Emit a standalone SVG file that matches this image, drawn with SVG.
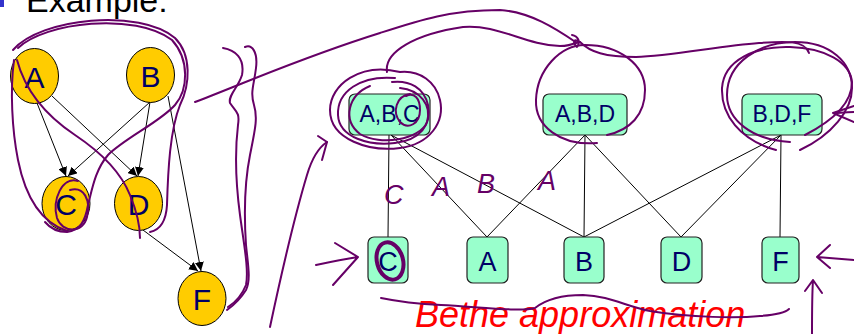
<svg xmlns="http://www.w3.org/2000/svg" width="854" height="334" viewBox="0 0 854 334">
<defs>
<style>
.circ{fill:#FFCC00;stroke:#000;stroke-width:1}
.box{fill:#99FFCC;stroke:#222;stroke-width:1.2}
.lbl{font-family:"Liberation Sans",Arial,sans-serif;fill:#000066;text-anchor:middle}
.big{font-size:30px}
.mid{font-size:23px}
.bot{font-size:27px}
.edge{stroke:#000;stroke-width:1;fill:none}
.ink{fill:none;stroke:#660066;stroke-width:2;stroke-linecap:round;stroke-linejoin:round}
.hand{font-family:"Liberation Sans",Arial,sans-serif;font-size:27px;fill:#660066;font-style:italic}
</style>
<marker id="arr" viewBox="0 0 10 10" refX="10" refY="5" markerWidth="9" markerHeight="9" markerUnits="userSpaceOnUse" orient="auto">
<path d="M0,0 L10,5 L0,10 z" fill="#000"/>
</marker>
</defs>
<rect width="854" height="334" fill="#fff"/>
<rect x="0" y="0" width="4" height="7" fill="#3333CC"/>
<text x="26" y="12" font-family="Liberation Sans,Arial,sans-serif" font-size="34" fill="#000">Example:</text>

<g id="connectors">
<line class="edge" x1="37" y1="103" x2="66" y2="176" marker-end="url(#arr)"/>
<line class="edge" x1="52" y1="96" x2="137" y2="176" marker-end="url(#arr)"/>
<line class="edge" x1="150" y1="102" x2="68" y2="176" marker-end="url(#arr)"/>
<line class="edge" x1="150" y1="102" x2="138" y2="176" marker-end="url(#arr)"/>
<line class="edge" x1="168" y1="96" x2="201" y2="271" marker-end="url(#arr)"/>
<line class="edge" x1="143" y1="230" x2="198" y2="271" marker-end="url(#arr)"/>
<line class="edge" x1="389" y1="135" x2="388" y2="237"/>
<line class="edge" x1="391" y1="135" x2="487" y2="237"/>
<line class="edge" x1="391" y1="135" x2="584" y2="237"/>
<line class="edge" x1="585" y1="135" x2="487" y2="237"/>
<line class="edge" x1="585" y1="135" x2="584" y2="237"/>
<line class="edge" x1="585" y1="135" x2="681" y2="237"/>
<line class="edge" x1="781" y1="135" x2="584" y2="237"/>
<line class="edge" x1="781" y1="135" x2="681" y2="237"/>
<line class="edge" x1="781" y1="135" x2="780" y2="237"/>
</g>

<g id="nA"><ellipse class="circ" cx="34.5" cy="76" rx="24" ry="27.5"/><text class="lbl big" x="34.5" y="88">A</text></g>
<g id="nB"><ellipse class="circ" cx="150.5" cy="75" rx="24" ry="27.5"/><text class="lbl big" x="150.5" y="87">B</text></g>
<g id="nC"><ellipse class="circ" cx="66" cy="203.5" rx="24" ry="27"/><text class="lbl big" x="66" y="215">C</text></g>
<g id="nD"><ellipse class="circ" cx="138.5" cy="203.5" rx="24" ry="27"/><text class="lbl big" x="138.5" y="215">D</text></g>
<g id="nF"><ellipse class="circ" cx="202" cy="298.5" rx="24" ry="27"/><text class="lbl big" x="202" y="310">F</text></g>

<g id="cABC"><rect class="box" x="349" y="94" width="81" height="41" rx="6"/><text class="lbl mid" x="389.5" y="122">A,B,C</text></g>
<g id="cABD"><rect class="box" x="543" y="94" width="84" height="41" rx="6"/><text class="lbl mid" x="585" y="122">A,B,D</text></g>
<g id="cBDF"><rect class="box" x="742" y="94" width="80" height="41" rx="6"/><text class="lbl mid" x="782" y="122">B,D,F</text></g>

<g id="sC"><rect class="box" x="368" y="237" width="40" height="46" rx="6"/><text class="lbl bot" x="388" y="271">C</text></g>
<g id="sA"><rect class="box" x="467" y="237" width="41" height="46" rx="6"/><text class="lbl bot" x="487.5" y="271">A</text></g>
<g id="sB"><rect class="box" x="564" y="237" width="40" height="46" rx="6"/><text class="lbl bot" x="584" y="271">B</text></g>
<g id="sD"><rect class="box" x="661" y="237" width="41" height="46" rx="6"/><text class="lbl bot" x="681.5" y="271">D</text></g>
<g id="sF"><rect class="box" x="762" y="237" width="37" height="46" rx="6"/><text class="lbl bot" x="780.5" y="271">F</text></g>

<text x="415" y="327" font-family="Liberation Sans,Arial,sans-serif" font-size="36" font-style="italic" fill="#FF0000">Bethe approximation</text>

<g id="ink">
<path class="ink" d="M13,50 C40,18 140,8 175,38 C192,55 190,85 180,105 C170,130 168,170 167,205 C166,222 160,230 150,232"/>
<path class="ink" d="M18,48 C45,22 135,12 172,40 C190,60 188,90 175,105 C160,122 125,138 108,155 C95,170 92,190 88,205 C85,222 80,230 67,232 C58,232 50,228 45,222"/>
<path class="ink" d="M14,60 C10,90 12,130 18,160 C25,195 40,222 67,231"/>
<path class="ink" d="M17,60 C25,90 45,115 75,135 C105,155 122,175 130,195 C137,212 140,225 140,238"/>
<path class="ink" d="M78,181 C62,176 52,200 57,218 C62,233 83,234 87,217 C91,200 84,186 70,190"/>
<path class="ink" d="M223,48 C235,50 245,58 242,75 C238,88 228,95 230,103 C236,112 240,112 238,125 C235,150 236,185 240,215 C244,245 249,270 246,285 C242,295 236,302 228,307"/>
<path class="ink" d="M245,47 C252,44 258,52 256,68 C254,85 250,92 254,105 C258,118 255,130 250,155 C244,185 244,215 246,245 C248,265 251,280 246,290 C241,298 234,305 227,310"/>
<path class="ink" d="M195,102 C240,85 300,58 380,33 C420,20 450,10 500,10 C530,12 555,28 577,43"/>
<path class="ink" d="M572,35 C578,36 581,42 577,47 C572,42 574,38 580,42"/>
<path class="ink" d="M387,72 C384,52 415,34 463,27 C498,24 525,45 560,46 C575,46 578,40 580,42 C590,52 605,57 636,57 C670,56 720,46 759,43 C785,41 805,40 809,53"/>
<path class="ink" d="M270,327 C280,280 295,215 307,175 C312,158 318,148 327,142"/>
<path class="ink" d="M318,136 L327,142 L322,160"/>
<path class="ink" d="M400,72 C360,62 330,85 330,110 C330,140 370,152 400,148 C430,144 445,122 440,100 C436,82 420,70 400,72"/>
<path class="ink" d="M395,78 C360,75 337,92 338,115 C339,138 370,146 395,143 C420,140 432,125 428,105 C424,88 410,80 392,82"/>
<path class="ink" d="M370,86 C348,95 342,120 360,134 C380,146 420,140 427,122 C432,105 420,90 400,88"/>
<path class="ink" d="M410,94 C396,96 392,112 400,122 C408,130 420,124 420,110 C420,98 414,92 406,96"/>
<path class="ink" d="M597,143 C560,146 535,126 536,100 C537,70 560,45 585,45 C620,45 645,65 645,90 C645,115 630,130 607,135"/>
<path class="ink" d="M790,142 C752,140 727,120 727,95 C727,62 760,42 795,42 C830,42 852,62 852,88 C852,110 832,135 800,150"/>
<path class="ink" d="M776,150 C740,140 721,115 722,88 C724,60 755,46 790,47 C825,48 850,62 852,82 C852,100 838,118 805,135"/>
<path class="ink" d="M854,106 L833,113 L854,122 M833,113 C840,113 848,112 854,112"/>
<path class="ink" d="M316,265 C330,262 345,259 358,257 M335,243 L358,257 L333,285"/>
<path class="ink" d="M854,260 L817,257 M830,245 L817,257 L830,268"/>
<path class="ink" d="M812,334 C812,315 812,295 813,280 M805,291 L813,280 L822,293"/>
<path class="ink" d="M381,298 C400,302 420,304 441,305 C480,307 520,312 535,308 C545,300 560,295 583,295 C610,296 625,306 650,311 C690,318 740,318 760,316 C775,315 785,313 789,309"/>
<ellipse cx="390" cy="261" rx="13" ry="19" transform="rotate(-15 390 261)" fill="none" stroke="#660066" stroke-width="4"/>
<text class="hand" x="384" y="204">C</text>
<text class="hand" x="432" y="196">A</text>
<text class="hand" x="477" y="193">B</text>
<text class="hand" x="538" y="190">A</text>
</g>
</svg>
